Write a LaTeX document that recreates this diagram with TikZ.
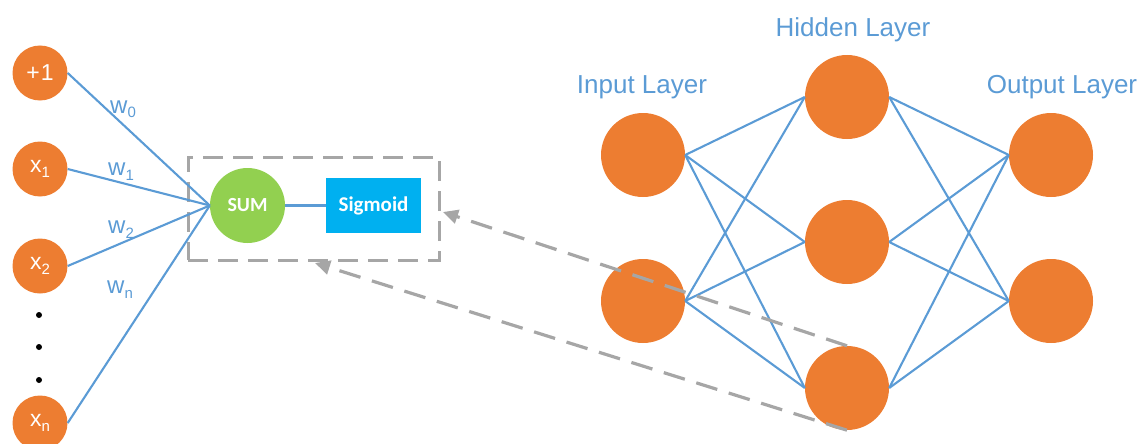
\documentclass[tikz,border=0pt]{standalone}
\usepackage{fontspec}
\setmainfont{Liberation Sans}
\newfontfamily\calibri{Carlito}
\usetikzlibrary{arrows.meta}
\definecolor{nodeorange}{HTML}{ED7D31}
\definecolor{linkblue}{HTML}{5B9BD5}
\definecolor{sumgreen}{HTML}{92D050}
\definecolor{sigcyan}{HTML}{00B0F0}
\definecolor{framegray}{HTML}{A6A6A6}
% lowered index in a fixed size
\newcommand{\lowidx}[1]{\raisebox{-5pt}{\fontsize{15}{15}\selectfont #1}}
\begin{document}
\begin{tikzpicture}[x=1pt,y=-1pt,
  inputnode/.style={circle,fill=nodeorange,minimum size=55pt,inner sep=0pt,
    text=white,font=\fontsize{23}{25}\selectfont},
  neuron/.style={circle,fill=nodeorange,minimum size=84pt,inner sep=0pt},
  link/.style={draw=linkblue,line width=2.1pt},
  weight/.style={anchor=base west,inner sep=0pt,text=linkblue,font=\fontsize{24}{26}\selectfont},
  layertitle/.style={anchor=base,inner sep=0pt,text=linkblue,font=\fontsize{26}{28}\selectfont},
  dashline/.style={draw=framegray,line width=3.2pt,dash pattern=on 22pt off 12pt},
  dotmark/.style={circle,fill=black,minimum size=6pt,inner sep=0pt}]
\useasboundingbox (0,0) rectangle (1140,444);

% ---- single perceptron ----
\node[inputnode] (b)  at (40,73)  {+\kern1pt 1};
\node[inputnode] (x1) at (40,169) {x\lowidx{1}};
\node[inputnode] (x2) at (40,266) {x\lowidx{2}};
\node[inputnode] (xn) at (40,423) {x\lowidx{n}};
\node[dotmark] (d1) at (39,315) {};
\node[dotmark] (d2) at (39,347) {};
\node[dotmark] (d3) at (39,380) {};

\node[draw=framegray,line width=3pt,dash pattern=on 20pt off 10pt,
  minimum width=251pt,minimum height=103pt,inner sep=0pt] (frame) at (313.5,208.5) {};

\node[circle,fill=sumgreen,minimum size=75pt,inner sep=0pt,text=white,
  font=\calibri\bfseries\fontsize{20}{22}\selectfont] (sum) at (247.5,205.5) {SUM};
\node[rectangle,fill=sigcyan,minimum width=95pt,minimum height=55pt,inner sep=0pt,
  text=white,font=\calibri\bfseries\fontsize{21}{23}\selectfont] (sig) at (373.5,205.5) {Sigmoid};

\foreach \s in {b,x1,x2,xn} \draw[link] (\s.east) -- (sum.west);
\draw[link] (sum.east) -- (sig.west);

\node[weight] (w0) at (110,113) {w\lowidx{0}};
\node[weight] (w1) at (108,175) {w\lowidx{1}};
\node[weight] (w2) at (108,233) {w\lowidx{2}};
\node[weight] (wn) at (107,293) {w\lowidx{n}};

% ---- multilayer network ----
\node[neuron] (i1) at (643,155) {};
\node[neuron] (i2) at (643,301) {};
\node[neuron] (h1) at (847,97)  {};
\node[neuron] (h2) at (847,242) {};
\node[neuron] (h3) at (847,388) {};
\node[neuron] (o1) at (1051,155) {};
\node[neuron] (o2) at (1051,301) {};

\foreach \a in {i1,i2} \foreach \h in {h1,h2,h3} \draw[link] (\a.east) -- (\h.west);
\foreach \h in {h1,h2,h3} \foreach \o in {o1,o2} \draw[link] (\h.east) -- (\o.west);

\node[layertitle] (tin)  at (642,93)  {Input Layer};
\node[layertitle] (thid) at (853,37)  {Hidden Layer};
\node[layertitle] (tout) at (1062,93) {Output Layer};

% ---- zoom-in arrows from a hidden neuron to the perceptron ----
\coordinate (tipA) at (443,212);
\coordinate (tipB) at (315,263);
\draw[dashline,-{Triangle[length=15pt,width=14pt]}] (h3.north) -- (tipA);
\draw[dashline,-{Triangle[length=15pt,width=14pt]}] (h3.south) -- (tipB);
\end{tikzpicture}
\end{document}
